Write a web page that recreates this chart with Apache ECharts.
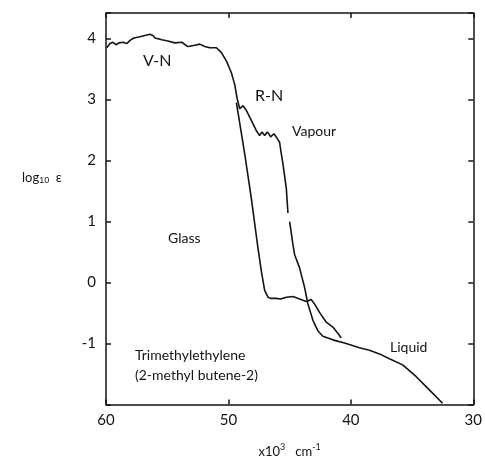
<!DOCTYPE html>
<html>
<head>
<meta charset="utf-8">
<script src="https://cdn.jsdelivr.net/npm/echarts@6/dist/echarts.min.js"></script>
<style>
  html, body { margin: 0; padding: 0; background: #fff; }
  #chart { width: 485px; height: 463px; }
</style>
</head>
<body>
<div id="chart"></div>
<script>
// Absorption spectrum of trimethylethylene (2-methyl butene-2)
// x: wavenumber (x10^3 cm^-1), y: log10 of molar extinction coefficient

// V-N band of the vapour, shoulder and R-N structure
const vapourBand = [
  [59.94, 3.85], [59.67, 3.92], [59.43, 3.94], [59.18, 3.90], [58.94, 3.93],
  [58.61, 3.94], [58.29, 3.92], [58.04, 3.97], [57.72, 4.01], [57.23, 4.03],
  [56.82, 4.05], [56.41, 4.07], [56.17, 4.05], [56.00, 4.01], [55.44, 3.98],
  [54.95, 3.96], [54.38, 3.93], [53.81, 3.94], [53.32, 3.87], [52.75, 3.89],
  [52.34, 3.91], [51.93, 3.87], [51.52, 3.85], [50.98, 3.85], [50.57, 3.77],
  [50.16, 3.63], [49.76, 3.44], [49.49, 3.25], [49.28, 3.01], [49.08, 2.85],
  [48.81, 2.90], [48.53, 2.82], [48.13, 2.66], [47.72, 2.49], [47.45, 2.41],
  [47.26, 2.47], [47.04, 2.41], [46.82, 2.47], [46.55, 2.39], [46.28, 2.44],
  [46.01, 2.36], [45.82, 2.30], [45.68, 2.11], [45.55, 1.95], [45.27, 1.54],
  [45.14, 1.14]
];

// vapour edge below the break in the trace
const vapourEdge = [
  [45.00, 1.00], [44.73, 0.62], [44.60, 0.46], [44.19, 0.24], [43.92, 0.03],
  [43.78, -0.08], [43.51, -0.35], [43.10, -0.62], [42.70, -0.79], [42.29, -0.88]
];

// liquid tail
const liquid = [
  [41.47, -0.94], [40.38, -1.00], [39.30, -1.07], [38.48, -1.11], [37.67, -1.17],
  [36.85, -1.25], [35.77, -1.35], [34.68, -1.54], [33.59, -1.76], [32.51, -1.98]
];

// glass spectrum
const glass = [
  [49.35, 2.95], [48.67, 2.11], [48.13, 1.38], [47.59, 0.57], [47.29, 0.16],
  [47.04, -0.13], [46.77, -0.24], [46.55, -0.26], [46.09, -0.26], [45.74, -0.27],
  [45.27, -0.24], [44.73, -0.23], [44.19, -0.27], [43.64, -0.31], [43.24, -0.28],
  [42.97, -0.35], [42.56, -0.49], [42.01, -0.65], [41.47, -0.73], [41.07, -0.83],
  [40.79, -0.91]
];

const xTicks = [60, 50, 40, 30];
const yTicks = [4, 3, 2, 1, 0, -1];

const FONT = 'Lato, "DejaVu Sans", sans-serif';
const INK = '#141414';

const chart = echarts.init(document.getElementById('chart'), null, { renderer: 'canvas' });

const mainTrace = vapourBand.concat([[45.07, null]], vapourEdge, liquid);

const axisLineStyle = { onZero: false, lineStyle: { color: INK, width: 1.5 } };
const tickStyle = { show: true, inside: true, length: 5, lineStyle: { color: INK, width: 1.5 } };

chart.setOption({
  animation: false,
  backgroundColor: '#ffffff',
  grid: { left: 106, right: 11, top: 13, bottom: 55 },
  xAxis: [
    {
      type: 'value', min: 30, max: 60, interval: 10, inverse: true, position: 'bottom',
      axisLine: axisLineStyle, axisTick: tickStyle, splitLine: { show: false },
      axisLabel: {
        color: INK, fontFamily: FONT, fontSize: 15, margin: 8,
        formatter: v => (xTicks.indexOf(v) >= 0 ? String(v) : '')
      },
      name: 'x10{sup|3}   cm{sup|-1}',
      nameLocation: 'middle', nameGap: 38,
      nameTextStyle: {
        color: INK, fontFamily: FONT, fontSize: 13,
        rich: { sup: { fontSize: 9, verticalAlign: 'top', padding: [0, 0, 9, 0], fontFamily: FONT, color: INK } }
      }
    },
    {
      type: 'value', min: 30, max: 60, interval: 10, inverse: true, position: 'top',
      axisLine: axisLineStyle, axisTick: tickStyle, axisLabel: { show: false },
      splitLine: { show: false }
    }
  ],
  yAxis: [
    {
      type: 'value', min: -2, max: 4.42, interval: 1, position: 'left',
      axisLine: axisLineStyle, axisTick: tickStyle, splitLine: { show: false },
      axisLabel: {
        color: INK, fontFamily: FONT, fontSize: 15, margin: 10,
        formatter: v => (yTicks.indexOf(v) >= 0 ? String(v) : '')
      }
    },
    {
      type: 'value', min: -2, max: 4.42, interval: 1, position: 'right',
      axisLine: axisLineStyle, axisTick: tickStyle, axisLabel: { show: false },
      splitLine: { show: false }
    }
  ],
  series: [
    {
      type: 'line', data: mainTrace, showSymbol: false, connectNulls: false,
      lineStyle: { color: INK, width: 1.6 }, smooth: false
    },
    {
      type: 'line', data: glass, showSymbol: false,
      lineStyle: { color: INK, width: 1.6 }
    }
  ],
  graphic: [
    {
      type: 'text', left: 22, top: 171,
      style: {
        text: 'log{sub|10}  ε', fill: INK, font: '13px ' + FONT,
        rich: { sub: { fontSize: 9, verticalAlign: 'bottom', padding: [6, 0, 0, 0], fill: INK } }
      }
    },
    { type: 'text', left: 143, top: 53, style: { text: 'V-N', fill: INK, font: '16px ' + FONT } },
    { type: 'text', left: 255, top: 88, style: { text: 'R-N', fill: INK, font: '16px ' + FONT } },
    { type: 'text', left: 292, top: 124, style: { text: 'Vapour', fill: INK, font: '14px ' + FONT } },
    { type: 'text', left: 168, top: 231, style: { text: 'Glass', fill: INK, font: '14px ' + FONT } },
    { type: 'text', left: 390, top: 340, style: { text: 'Liquid', fill: INK, font: '14px ' + FONT } },
    {
      type: 'text', left: 135, top: 345,
      style: { text: 'Trimethylethylene\n(2-methyl butene-2)', fill: INK, font: '14px ' + FONT, lineHeight: 20 }
    }
  ]
});
</script>
</body>
</html>
